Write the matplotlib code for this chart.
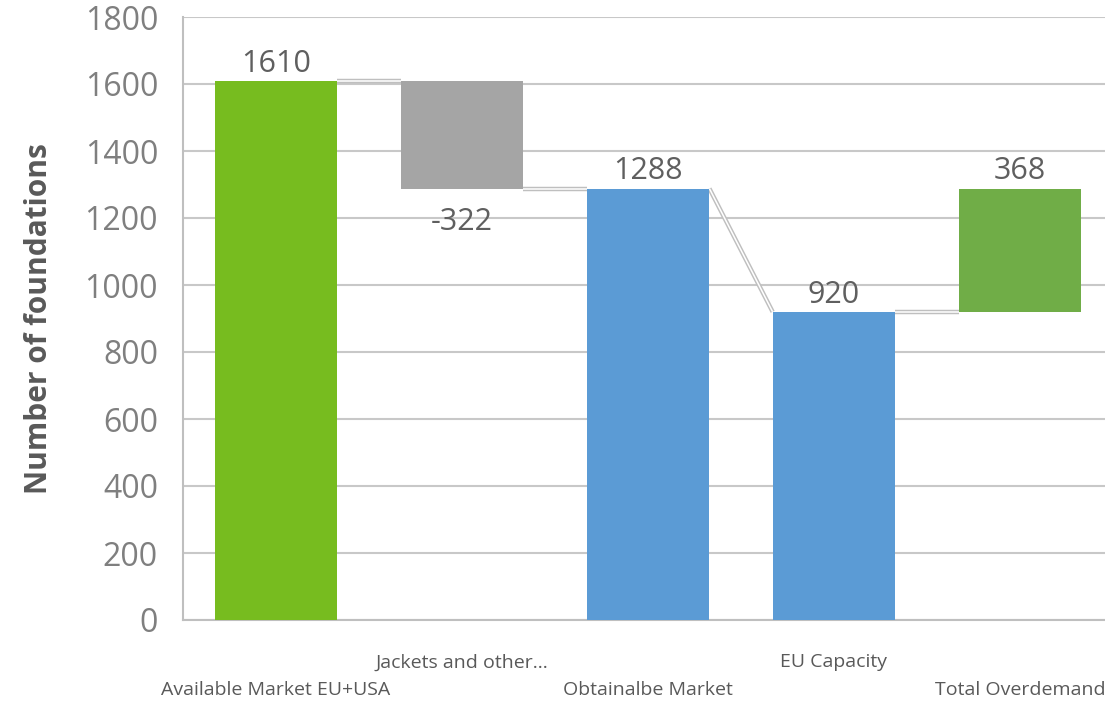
import matplotlib.pyplot as plt
import numpy as np

# data
categories = ["Available Market EU+USA", "Jackets and other...", "Obtainalbe Market",
              "EU Capacity", "Total Overdemand"]
values = [1610, -322, 1288, 920, 368]
bottoms = [0, 1288, 0, 0, 920]
tops = [1610, 1610, 1288, 920, 1288]
# level where the connector line leaves / reaches each bar
conn_out = [1610, 1288, 1288, 920]
conn_in = [1610, 1288, 920, 920]
colors = ["#77BC1F", "#A5A5A5", "#5B9BD5", "#5B9BD5", "#70AD47"]
yticks = [0, 200, 400, 600, 800, 1000, 1200, 1400, 1600, 1800]

plt.rcParams['font.family'] = ['Open Sans', 'DejaVu Sans']

fig = plt.figure(figsize=(11.05, 7.01), dpi=100)
ax = fig.add_axes([183 / 1105, 81 / 701, 930 / 1105, 603 / 701])

x = np.arange(len(categories))
w = 0.66
heights = [t - b for t, b in zip(tops, bottoms)]
ax.bar(x, heights, bottom=bottoms, width=w, color=colors, zorder=3)

# connectors (double line look)
for i in range(len(categories) - 1):
    xs = [x[i] + w / 2, x[i + 1] - w / 2]
    ys = [conn_out[i], conn_in[i]]
    ax.plot(xs, ys, color="#BFBFBF", lw=3.2, zorder=2, solid_capstyle="butt")
    ax.plot(xs, ys, color="white", lw=1.1, zorder=2.1, solid_capstyle="butt")

# value labels
for i, v in enumerate(values):
    if v < 0:
        ax.annotate(str(v), (x[i], bottoms[i]), xytext=(0, -13.5), textcoords="offset points",
                    ha="center", va="top", fontsize=22, color="#5F5F5F", zorder=4)
    else:
        ax.annotate(str(v), (x[i], tops[i]), xytext=(0, 6.5), textcoords="offset points",
                    ha="center", va="baseline", fontsize=22, color="#5F5F5F", zorder=4)

ax.set_xlim(-0.5, 4.5)
ax.set_ylim(0, 1800)
ax.set_yticks(yticks)
ax.tick_params(axis="y", length=0, pad=18, labelsize=23, labelcolor="#7F7F7F")
ax.grid(axis="y", color="#C8C8C8", lw=1.5, zorder=0)
ax.set_axisbelow(True)

ax.set_xticks(x)
ax.set_xticklabels([])
ax.tick_params(axis="x", length=0)
for i, c in enumerate(categories):
    yoff = -30.5 if i % 2 == 1 else -50.5
    ax.annotate(c, (x[i], 0), xytext=(0, yoff), textcoords="offset points",
                ha="center", va="center", fontsize=14, color="#595959",
                annotation_clip=False)

for s in ["top", "right"]:
    ax.spines[s].set_visible(False)
for s in ["left", "bottom"]:
    ax.spines[s].set_color("#BFBFBF")
    ax.spines[s].set_linewidth(1.5)

ax.set_ylabel("Number of foundations", fontsize=21.5, fontweight="bold", color="#595959",
              labelpad=22)

fig.savefig("out.png", dpi=100)
